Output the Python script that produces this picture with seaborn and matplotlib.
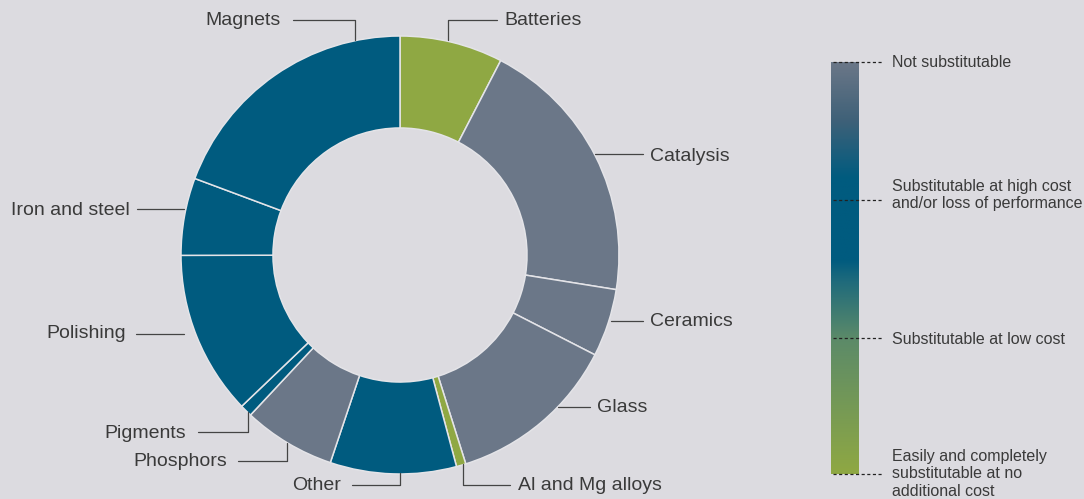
import numpy as np
import matplotlib
matplotlib.use("Agg")
import matplotlib.pyplot as plt
from matplotlib.colors import LinearSegmentedColormap
import seaborn as sns

# Data: share of rare-earth use by application (read from the donut)
apps = ["Batteries", "Catalysis", "Ceramics", "Glass", "Al and Mg alloys", "Other",
        "Phosphors", "Pigments", "Polishing", "Iron and steel", "Magnets"]
shares = [7.6, 19.9, 5.0, 12.6, 0.7, 9.3, 6.8, 0.9, 12.1, 5.7, 19.3]
substitutability = ["easy", "none", "none", "none", "easy", "high",
                    "none", "high", "high", "high", "high"]

scale_labels = ["Not substitutable",
                "Substitutable at high cost\nand/or loss of performance",
                "Substitutable at low cost",
                "Easily and completely\nsubstitutable at no\nadditional cost"]

# Colours
BG = "#dcdbe0"
GREY = "#6b7788"
BLUE = "#005b7f"
GREEN = "#8fa843"
TEXT = "#3a3a3a"
color_map = {"none": GREY, "high": BLUE, "easy": GREEN}

sns.set_style("white", {"axes.facecolor": BG, "figure.facecolor": BG})
plt.rcParams["font.family"] = ["Liberation Sans", "DejaVu Sans"]

W, H = 1084, 499
fig = plt.figure(figsize=(W / 100, H / 100), dpi=100)
ax = fig.add_axes([0, 0, 1, 1])
ax.set_facecolor(BG)

# Donut (pixel-like coordinates, y up)
cx, cy, r = 400, H - 255, 219
ax.pie(shares, colors=[color_map[s] for s in substitutability], startangle=90,
       counterclock=False, center=(cx, cy), radius=r,
       wedgeprops=dict(width=r * 0.42, edgecolor="#e4e4e8", linewidth=1.1))

# Label layout: (text anchor x, text y, ha, leader polyline in image px)
layout = {
    "Batteries": (504, 20, "left", [(448, 40), (448, 20), (497, 20)]),
    "Catalysis": (650, 156, "left", [(595, 154), (643, 154)]),
    "Ceramics": (650, 322, "left", [(611, 321), (643, 321)]),
    "Glass": (597, 408, "left", [(558, 407), (590, 407)]),
    "Al and Mg alloys": (518, 486, "left", [(463, 464), (463, 485), (510, 485)]),
    "Other": (341, 485, "right", [(400, 473), (400, 485), (352, 485)]),
    "Phosphors": (227, 462, "right", [(287, 443), (287, 461), (238, 461)]),
    "Pigments": (186, 433, "right", [(248, 412), (248, 432), (198, 432)]),
    "Polishing": (126, 334, "right", [(184, 334), (136, 334)]),
    "Iron and steel": (130, 210, "right", [(184, 209), (137, 209)]),
    "Magnets": (281, 20, "right", [(355, 40), (355, 20), (293, 20)]),
}
for name in apps:
    tx, ty, ha, pts = layout[name]
    xs = [p[0] for p in pts]
    ys = [H - p[1] for p in pts]
    ax.plot(xs, ys, color="#444444", lw=0.9, clip_on=False)
    ax.text(tx, H - ty, name, ha=ha, va="center", fontsize=14, color=TEXT)

# Substitutability scale bar
cmap = LinearSegmentedColormap.from_list("subst", [
    (0.0, GREEN), (0.33, "#5b8a69"), (0.47, "#1e6a7c"), (0.52, BLUE),
    (0.72, BLUE), (0.86, "#3f6178"), (1.0, GREY)])
grad = np.linspace(0, 1, 256).reshape(-1, 1)
bx0, bx1, by0, by1 = 831, 859, H - 474, H - 62
ax.imshow(grad, extent=[bx0, bx1, by0, by1], aspect="auto", cmap=cmap, origin="lower")

tick_y = [62, 200, 338, 474]
label_y = [62, 195, 340, 474]
for ty, ly, lab in zip(tick_y, label_y, scale_labels):
    ax.plot([833, 882], [H - ty, H - ty], color="#222222", lw=0.9, ls=(0, (2.5, 2)), clip_on=False)
    ax.text(892, H - ly, lab, ha="left", va="center", fontsize=11.5, color=TEXT,
            linespacing=1.2)

ax.set_xlim(0, W)
ax.set_ylim(0, H)
ax.set_aspect("equal")
ax.axis("off")

fig.savefig("out.png", dpi=100, facecolor=BG)
